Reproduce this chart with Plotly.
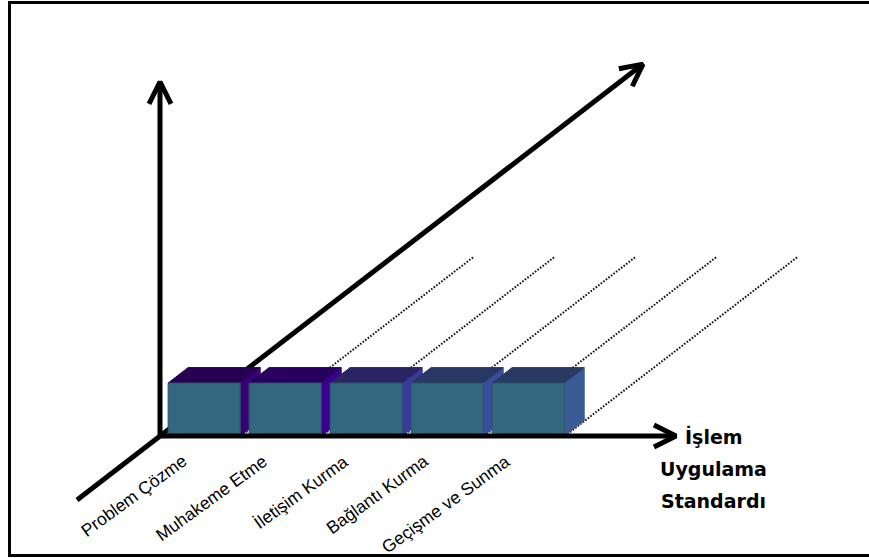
import numpy as np
import plotly.graph_objects as go

# ---------------- data ----------------
CATEGORIES = ["Problem Çözme", "Muhakeme Etme", "İletişim Kurma", "Bağlantı Kurma", "Geçişme ve Sunma"]
VALUES = [1, 1, 1, 1, 1]
AXIS_TITLE = ["İşlem", "Uygulama", "Standardı"]
FRONT_COLORS = ["#33667F", "#33667F", "#33667F", "#33667F", "#33667F"]
TOP_COLORS = ["#260052", "#28005F", "#2A2364", "#283764", "#283A64"]
SIDE_COLORS = ["#3A0078", "#3C0091", "#3A3A9B", "#3A4E9B", "#3A5A96"]

# ---------------- geometry / scales ----------------
W, H = 869, 558
PX_X = 81.0      # pixels per category
PX_Y = 53.0      # pixels per value unit
OX, OY = 160.0, 436.0   # origin in pixels
DEPTH_PX = (20.0, 15.4)  # pixel shift per depth unit
DX = DEPTH_PX[0] / PX_X
DY = DEPTH_PX[1] / PX_Y

X_RANGE = [-OX / PX_X, (W - OX) / PX_X]
Y_RANGE = [(OY - H) / PX_Y, OY / PX_Y]

V_AXIS_LEN = 6.68
H_AXIS_LEN = 6.37
D_AXIS = (-4.15, 24.15)
GRID_DEPTH = 11.6
BOX_DEPTH = 1.0
BAR_START, BAR_END = 0.10, 0.99


def proj(x, y, d):
    return x + DX * d, y + DY * d


def to_px(x, y):
    return np.array([OX + x * PX_X, OY - y * PX_Y])


def to_data(p):
    return (p[0] - OX) / PX_X, (OY - p[1]) / PX_Y


fig = go.Figure()


def line(xs, ys, width=5, color="black", dash="solid"):
    fig.add_trace(go.Scatter(x=xs, y=ys, mode="lines",
                             line=dict(color=color, width=width, dash=dash),
                             hoverinfo="skip", showlegend=False))


def arrow(x0, y0, x1, y1, head=True):
    p0, p1 = to_px(x0, y0), to_px(x1, y1)
    line([x0, x1], [y0, y1])
    if head:
        v = p1 - p0
        u = v / np.linalg.norm(v)
        n = np.array([-u[1], u[0]])
        w1 = to_data(p1 - u * 22 + n * 11)
        w2 = to_data(p1 - u * 22 - n * 11)
        line([w1[0], x1, w2[0]], [w1[1], y1, w2[1]])


def poly(pts, color, outline=None):
    xs = [p[0] for p in pts] + [pts[0][0]]
    ys = [p[1] for p in pts] + [pts[0][1]]
    fig.add_trace(go.Scatter(x=xs, y=ys, mode="lines", fill="toself",
                             fillcolor=color,
                             line=dict(color=outline or color, width=1),
                             hoverinfo="skip", showlegend=False))


# depth axis (behind the boxes)
dx0, dy0 = proj(0, 0, D_AXIS[0])
dx1, dy1 = proj(0, 0, D_AXIS[1])
arrow(dx0, dy0, dx1, dy1)

# dotted floor grid lines at category boundaries
for k in range(1, len(CATEGORIES) + 1):
    gx, gy = proj(k, 0, GRID_DEPTH)
    line([k, gx], [0, gy], width=2, dash="1.6px,1.6px", color="#111111")

# boxes
for i, v in enumerate(VALUES):
    x0, x1 = i + BAR_START, i + BAR_END
    y0, y1 = 0, v
    side = [(x1, y0), (x1, y1), proj(x1, y1, BOX_DEPTH), proj(x1, y0, BOX_DEPTH)]
    top = [(x0, y1), (x1, y1), proj(x1, y1, BOX_DEPTH), proj(x0, y1, BOX_DEPTH)]
    front = [(x0, y0), (x1, y0), (x1, y1), (x0, y1)]
    poly(side, SIDE_COLORS[i])
    poly(top, TOP_COLORS[i])
    poly(front, FRONT_COLORS[i], outline="#2A5567")

# vertical and horizontal axes
arrow(0, 0, 0, V_AXIS_LEN)
arrow(0, 0, H_AXIS_LEN, 0)

annotations = []
# category labels
for i, name in enumerate(CATEGORIES):
    annotations.append(dict(
        x=i + 0.5 - 8 / PX_X, y=-12 / PX_Y, xref="x", yref="y",
        text=name, showarrow=False, textangle=-36,
        xanchor="right", yanchor="top",
        font=dict(family="Liberation Sans, Arial", size=17.5, color="black")))

# axis title
for k, t in enumerate(AXIS_TITLE):
    annotations.append(dict(
        x=H_AXIS_LEN + 38 / PX_X, y=-(k * 32.5) / PX_Y, xref="x", yref="y",
        text=t, showarrow=False, xanchor="center", yanchor="middle",
        font=dict(family="DejaVu Sans", size=19, color="black", weight="bold")))

# frame (open on the right)
shapes = [dict(type="path", xref="paper", yref="paper",
               path="M 1.02,{t} L {l},{t} L {l},{b} L 1.02,{b}".format(
                   l=9.5 / W, t=1 - 2.5 / H, b=1 - 555.5 / H),
               line=dict(color="black", width=3))]

fig.update_layout(
    width=W, height=H, autosize=False,
    margin=dict(l=0, r=0, t=0, b=0),
    paper_bgcolor="white", plot_bgcolor="white",
    xaxis=dict(range=X_RANGE, visible=False, fixedrange=True),
    yaxis=dict(range=Y_RANGE, visible=False, fixedrange=True),
    annotations=annotations, shapes=shapes,
    hovermode=False, showlegend=False,
)

fig.write_html("out.html", config={"displayModeBar": False})
